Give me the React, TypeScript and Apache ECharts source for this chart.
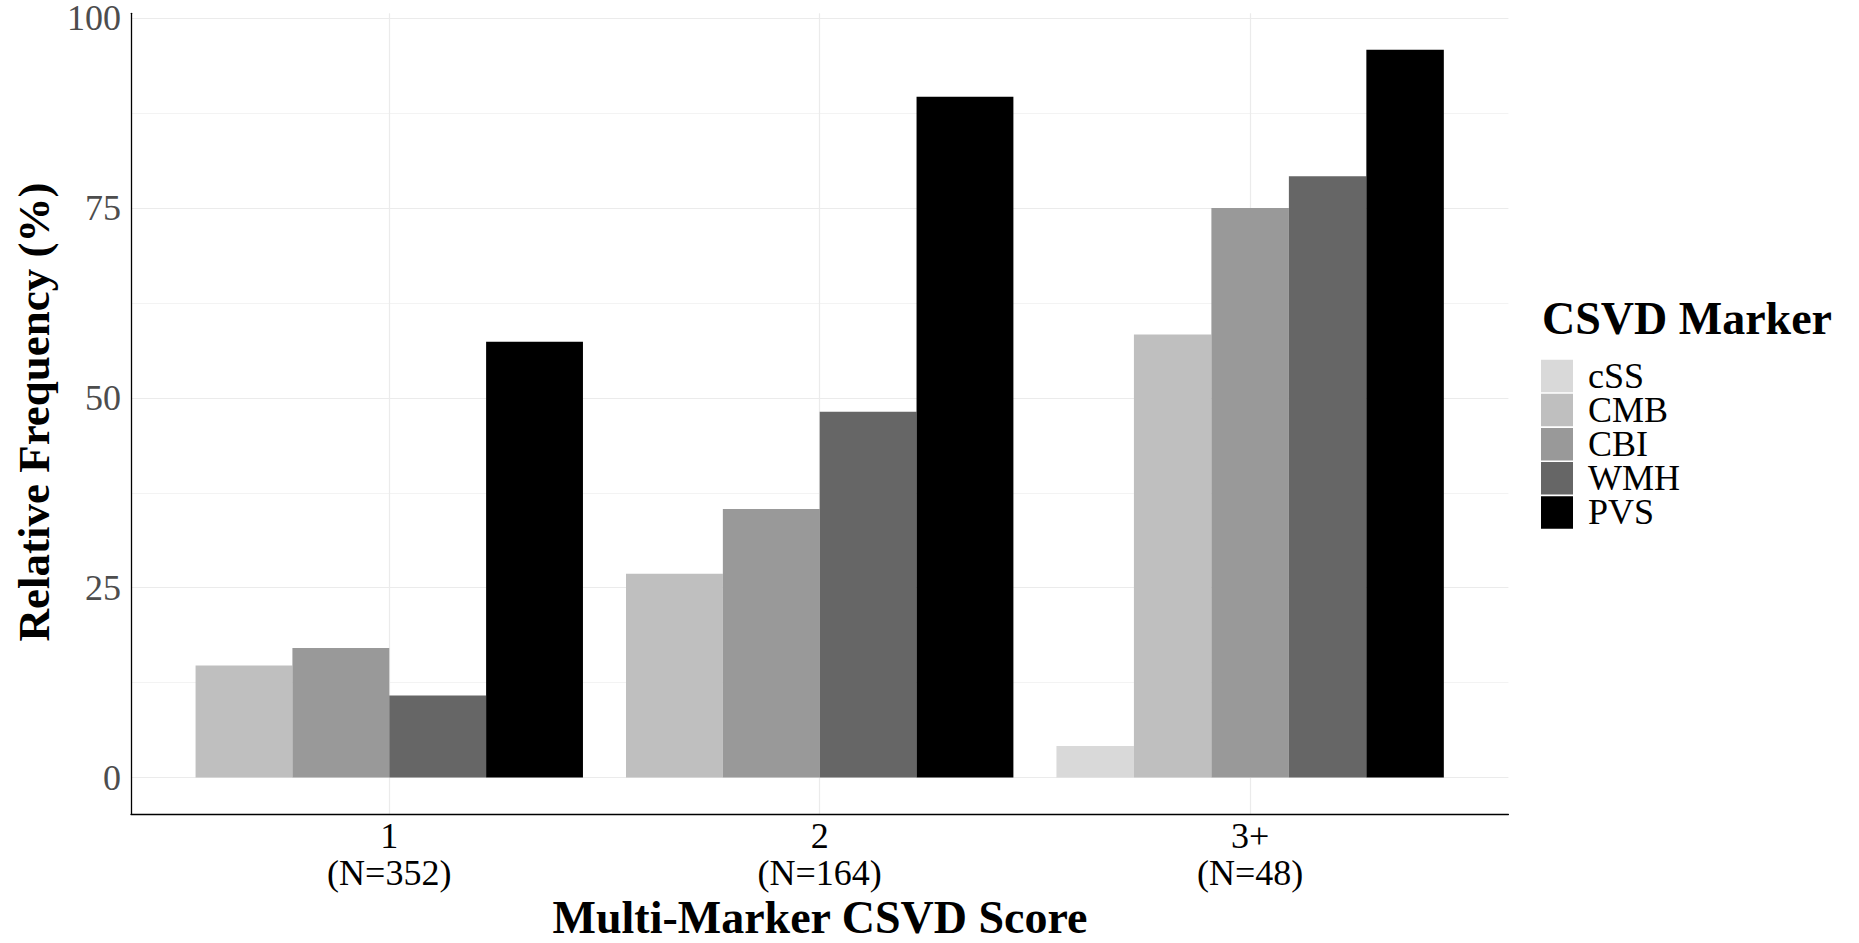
import React, { useEffect, useRef } from "react";
import * as echarts from "echarts";

// ---- data ----
const categories: string[] = ["1\n(N=352)", "2\n(N=164)", "3+\n(N=48)"];
const markers: string[] = ["cSS", "CMB", "CBI", "WMH", "PVS"];
const markerColors: string[] = ["#D9D9D9", "#BFBFBF", "#999999", "#666666", "#000000"];
const cSS: (number | null)[] = [null, null, 4.17];
const CMB: (number | null)[] = [14.77, 26.83, 58.33];
const CBI: (number | null)[] = [17.05, 35.37, 75.0];
const WMH: (number | null)[] = [10.8, 48.17, 79.17];
const PVS: (number | null)[] = [57.39, 89.63, 95.83];
const seriesValues: (number | null)[][] = [cSS, CMB, CBI, WMH, PVS];
const yTickLabels: number[] = [0, 25, 50, 75, 100];
const yGridValues: number[] = [0, 12.5, 25, 37.5, 50, 62.5, 75, 87.5, 100];

const FONT = '"Liberation Serif", "Times New Roman", serif';

export default function App() {
  const ref = useRef<HTMLDivElement | null>(null);

  useEffect(() => {
    if (!ref.current) return;
    const chart = echarts.init(ref.current, undefined, { renderer: "svg" });

    // ggplot-like dodge (width 0.9, bars share the group among present series)
    const dodgeWidth = 0.9;
    const seriesData: number[][][] = markers.map(() => []);
    categories.forEach((_, ci) => {
      const present = markers
        .map((_, si) => si)
        .filter((si) => seriesValues[si][ci] !== null);
      const w = dodgeWidth / present.length;
      present.forEach((si, k) => {
        const xc = ci + 1 - dodgeWidth / 2 + (k + 0.5) * w;
        seriesData[si].push([xc, seriesValues[si][ci] as number, w]);
      });
    });

    const all = seriesValues.flat().filter((v) => v !== null) as number[];
    const yMaxData = Math.max(...all);
    const pad = 0.05 * yMaxData;

    const series = markers.map((name, si) => ({
      type: "custom",
      name,
      itemStyle: { color: markerColors[si] },
      encode: { x: 0, y: 1 },
      data: seriesData[si],
      renderItem: (params: any, api: any) => {
        const x = api.value(0);
        const y = api.value(1);
        const w = api.value(2);
        const tl = api.coord([x - w / 2, y]);
        const br = api.coord([x + w / 2, 0]);
        return {
          type: "rect",
          shape: { x: tl[0], y: tl[1], width: br[0] - tl[0], height: br[1] - tl[1] },
          style: { fill: api.visual("color") },
        };
      },
    }));

    chart.setOption({
      animation: false,
      backgroundColor: "#ffffff",
      grid: { left: 131, right: 350.6, top: 13.3, bottom: 129, containLabel: false },
      xAxis: {
        type: "value",
        min: 0.4,
        max: categories.length + 0.6,
        axisLine: { show: true, onZero: false, lineStyle: { color: "#000", width: 1.3 } },
        axisTick: { show: false, customValues: categories.map((_, i) => i + 1) },
        splitLine: { show: true, lineStyle: { color: "#EBEBEB", width: 1.2 } },
        axisLabel: {
          customValues: categories.map((_, i) => i + 1),
          formatter: (v: number) => categories[Math.round(v) - 1] ?? "",
          fontFamily: FONT,
          fontSize: 36,
          lineHeight: 37.5,
          color: "#000",
          margin: 3,
        },
      },
      yAxis: {
        type: "value",
        min: -pad,
        max: yMaxData + pad,
        axisLine: { show: true, onZero: false, lineStyle: { color: "#000", width: 1.3 } },
        axisTick: { show: false, customValues: yGridValues },
        splitLine: { show: true, lineStyle: { color: ["#EBEBEB", "#F3F3F3"], width: 1.2 } },
        axisLabel: {
          customValues: yTickLabels,
          fontFamily: FONT,
          fontSize: 36,
          color: "#4D4D4D",
          margin: 10,
        },
      },
      legend: {
        data: markers,
        orient: "vertical",
        left: 1541,
        top: 358,
        padding: 0,
        icon: "rect",
        itemWidth: 32,
        itemHeight: 32.5,
        itemGap: -1.9,
        selectedMode: false,
        textStyle: {
          fontFamily: FONT,
          fontSize: 36,
          color: "#000",
          padding: [0, 0, 0, 10],
        },
      },
      graphic: [
        {
          type: "text",
          x: 34,
          y: 412,
          rotation: Math.PI / 2,
          style: {
            text: "Relative Frequency (%)",
            fontFamily: FONT,
            fontWeight: "bold",
            fontSize: 45,
            fill: "#000",
            align: "center",
            verticalAlign: "middle",
          },
        },
        {
          type: "text",
          x: 820,
          y: 917,
          style: {
            text: "Multi-Marker CSVD Score",
            fontFamily: FONT,
            fontWeight: "bold",
            fontSize: 46,
            fill: "#000",
            align: "center",
            verticalAlign: "middle",
          },
        },
        {
          type: "text",
          x: 1542,
          y: 318,
          style: {
            text: "CSVD Marker",
            fontFamily: FONT,
            fontWeight: "bold",
            fontSize: 46,
            fill: "#000",
            align: "left",
            verticalAlign: "middle",
          },
        },
      ],
      series,
    });

    return () => {
      chart.dispose();
    };
  }, []);

  return (
    <div
      ref={ref}
      style={{ position: "fixed", left: 0, top: 0, width: 1859, height: 943, background: "#fff" }}
    />
  );
}
